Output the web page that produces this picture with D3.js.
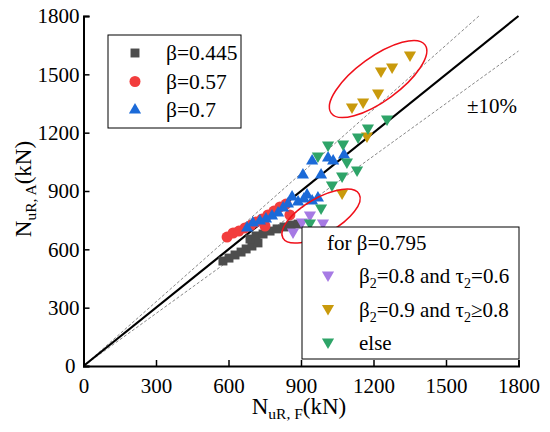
<!DOCTYPE html>
<html><head><meta charset="utf-8">
<script src="https://cdn.jsdelivr.net/npm/d3@7/dist/d3.min.js"></script>
<style>body{margin:0;background:#fff}svg{display:block}</style>
</head><body>
<script>
// ---- data (kN) ----
const xTicks = [0,300,600,900,1200,1500,1800];
const yTicks = [0,300,600,900,1200,1500,1800];

const b445X = [577,602,627,652,673,697,722,689,714,743,772,801,830,859,888];
const b445Y = [540,555,571,586,602,617,633,653,669,679,694,705,715,725,730];

const b57X = [594,619,643,668,693,714,739,751,763,788,813,838,854];
const b57Y = [663,684,694,710,725,741,756,720,777,797,818,833,777];

const b7X = [677,701,730,755,780,805,826,846,863,888,912,925,946,970,908,983,946,1012,1033,1078];
const b7Y = [710,735,746,756,771,787,813,833,869,843,859,879,849,864,982,982,1054,1070,1054,1085];

const purpX = [867,904,937,991];
const purpY = [689,741,777,735];

const goldX = [1351,1277,1231,1219,1157,1111,1173,1070];
const goldY = [1599,1538,1517,1404,1358,1332,1183,890];

const elseX = [1256,1177,1136,1074,1012,970,1090,1132,1070,1028,983,937];
const elseY = [1270,1224,1178,1142,1137,1080,1049,1008,977,931,813,735];

// ellipse annotations: centre in data units
const ellCX = [1219, 983];
const ellCY = [1476, 771];

const W = 550, H = 432;
const FONT = "Liberation Serif";
const svg = d3.select("body").append("svg").attr("width", W).attr("height", H);

const x = d3.scaleLinear().domain([0,1800]).range([83.5,518.5]);
const y = d3.scaleLinear().domain([0,1800]).range([366,16]);

// reference lines
const lineGen = d3.line().x(d => x(d[0])).y(d => y(d[1]));
svg.append("path").attr("d", lineGen([[0,0],[1800/1.1,1800]]))
  .attr("stroke","#888").attr("stroke-width",1).attr("stroke-dasharray","3,2").attr("fill","none");
svg.append("path").attr("d", lineGen([[0,0],[1800,1620]]))
  .attr("stroke","#888").attr("stroke-width",1).attr("stroke-dasharray","3,2").attr("fill","none");
svg.append("path").attr("d", lineGen([[0,0],[1800,1800]]))
  .attr("stroke","#000").attr("stroke-width",2.2).attr("fill","none");

// markers
const sq = d3.symbol().type(d3.symbolSquare).size(80);
const ci = d3.symbol().type(d3.symbolCircle).size(95);
const tri = d3.symbol().type(d3.symbolTriangle).size(64);

function drawSeries(xs, ys, sym, color, rot) {
  const g = svg.append("g");
  g.selectAll("path").data(xs.map((v,i)=>[v, ys[i]])).join("path")
    .attr("d", sym)
    .attr("transform", d => `translate(${x(d[0])},${y(d[1])})` + (rot ? " rotate(180)" : ""))
    .attr("fill", color);
}
const C = {gray:"#4d4d4d", red:"#f23d3d", blue:"#1b6ad8", purp:"#a67ae4", gold:"#c99a0c", green:"#2ea468"};
drawSeries(b445X, b445Y, sq, C.gray, false);
drawSeries(b57X, b57Y, ci, C.red, false);
drawSeries(b7X, b7Y, tri, C.blue, false);
drawSeries(purpX, purpY, tri, C.purp, true);
drawSeries(goldX, goldY, tri, C.gold, true);
drawSeries(elseX, elseY, tri, C.green, true);

// ellipses
const ellR = [[58,22,-36],[44,18,-30]];
ellCX.forEach((cx,i) => {
  svg.append("ellipse")
    .attr("transform", `translate(${x(cx)},${y(ellCY[i])}) rotate(${ellR[i][2]})`)
    .attr("rx", ellR[i][0]).attr("ry", ellR[i][1])
    .attr("fill","none").attr("stroke","#f0101a").attr("stroke-width",1.5);
});

// axes
const minor = d3.range(150,1800,300);
const xa = svg.append("g").attr("transform","translate(0,366)");
xa.call(d3.axisBottom(x).tickValues(minor).tickSize(-3).tickFormat(""));
xa.call(d3.axisBottom(x).tickValues(xTicks).tickSize(-6).tickPadding(12).tickFormat(d3.format("d")));
const ya = svg.append("g").attr("transform","translate(83.5,0)");
ya.call(d3.axisLeft(y).tickValues(minor).tickSize(-3).tickFormat(""));
ya.call(d3.axisLeft(y).tickValues(yTicks).tickSize(-6).tickPadding(4).tickFormat(d3.format("d")));
xa.attr("font-family", FONT).attr("font-size", 21);
ya.attr("font-family", FONT).attr("font-size", 21);
svg.selectAll(".domain").attr("stroke","#000").attr("stroke-width",2);
svg.selectAll(".tick line").attr("stroke","#000").attr("stroke-width",1.5);
svg.selectAll(".tick text").attr("font-family",FONT).attr("font-size",21).attr("fill","#000");
ya.selectAll(".tick text").filter(d => d === 0).attr("dx", -4);

function txt(xp, yp, size) {
  return svg.append("text").attr("x",xp).attr("y",yp).attr("font-size",size)
    .attr("font-family",FONT).attr("fill","#000");
}

// axis titles
const xt = txt(299,414,23).attr("text-anchor","middle");
xt.append("tspan").text("N");
xt.append("tspan").attr("font-size",15.5).attr("dy",5).text("uR, F");
xt.append("tspan").attr("dy",-5).text("(kN)");
const yt = txt(0,0,23).attr("transform","translate(31,189) rotate(-90)").attr("text-anchor","middle");
yt.append("tspan").text("N");
yt.append("tspan").attr("font-size",15.5).attr("dy",5).text("uR, A");
yt.append("tspan").attr("dy",-5).text("(kN)");

// ±10%
txt(467,113,21).text("±10%");

// legend 1
svg.append("rect").attr("x",108).attr("y",35).attr("width",133).attr("height",93)
  .attr("fill","#fff").attr("stroke","#000").attr("stroke-width",1);
const leg1 = [["β=0.445", sq, C.gray], ["β=0.57", ci, C.red], ["β=0.7", tri, C.blue]];
leg1.forEach((d,i) => {
  const cy = 53 + i*28.5;
  svg.append("path").attr("d", d[1]).attr("transform",`translate(135,${cy})`).attr("fill", d[2]);
  txt(166, cy+7, 21.5).text(d[0]);
});

// legend 2
svg.append("rect").attr("x",302).attr("y",227).attr("width",217).attr("height",132)
  .attr("fill","#fff").attr("stroke","#000").attr("stroke-width",1);
txt(327,250,21).text("for β=0.795");
const leg2 = [
  [["β","2","=0.8 and τ","2","=0.6"], C.purp],
  [["β","2","=0.9 and τ","2","≥0.8"], C.gold],
  [["else"], C.green]
];
leg2.forEach((d,i) => {
  const cy = 275 + i*33.5;
  svg.append("path").attr("d", tri).attr("transform",`translate(328,${cy}) rotate(180)`).attr("fill", d[1]);
  const t = txt(359, cy+8, 21);
  d[0].forEach((s,k) => {
    if (k % 2 === 1) t.append("tspan").attr("font-size",14).attr("dy",5).text(s);
    else t.append("tspan").attr("dy", k ? -5 : 0).text(s);
  });
});
</script>
</body></html>
